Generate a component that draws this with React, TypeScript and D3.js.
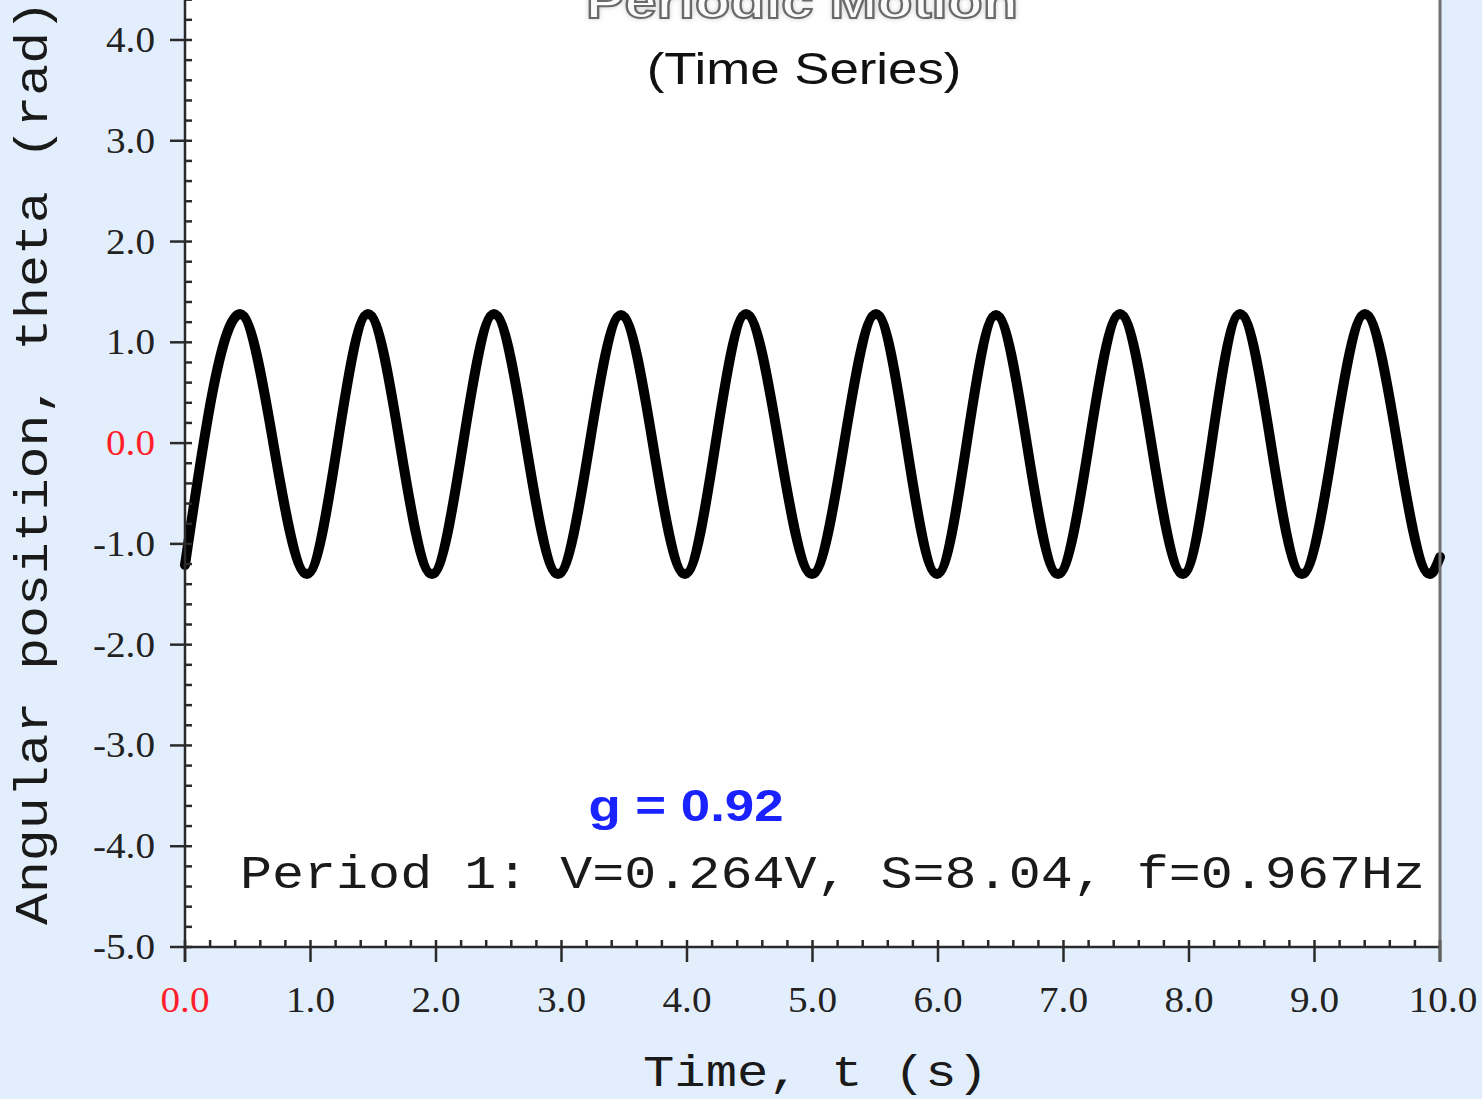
import React from "react";
import * as d3 from "d3";

// Turning points of the pendulum trace (time in s, angle in rad)
const turnT = [0, 0.438, 0.972, 1.458, 1.968, 2.462, 2.972, 3.474, 3.984, 4.47, 4.996, 5.506, 5.992, 6.462, 6.956, 7.45, 7.952, 8.406, 8.9, 9.402, 9.92, 10.0];
const turnTheta = [-1.21, 1.28, -1.3, 1.28, -1.3, 1.28, -1.3, 1.27, -1.3, 1.28, -1.3, 1.28, -1.3, 1.27, -1.3, 1.28, -1.3, 1.28, -1.3, 1.28, -1.3, -1.13];

const xTicks = [0, 1, 2, 3, 4, 5, 6, 7, 8, 9, 10];
const yTicks = [-5, -4, -3, -2, -1, 0, 1, 2, 3, 4];

const title = "Periodic Motion";
const subtitle = "(Time Series)";
const gLabel = "g = 0.92";
const periodLabel = "Period 1: V=0.264V, S=8.04, f=0.967Hz";
const xLabel = "Time, t (s)";
const yLabel = "Angular position, theta (rad)";

const W = 1482;
const H = 1099;
const left = 185;
const right = 1440;
const bottom = 947;

const BG = "#e3eefc";
const AXIS = "#2a2a2a";
const TICKTXT = "#222";
const RED = "#ff1e2a";

const serif = "'Liberation Serif', 'Times New Roman', serif";
const mono = "'Liberation Mono', 'Courier New', monospace";
const sans = "'Liberation Sans', Arial, sans-serif";

type LabelProps = {
  x: number;
  y: number;
  sx?: number;
  anchor?: "start" | "middle" | "end";
  children: React.ReactNode;
  [k: string]: any;
};

function Label({ x, y, sx = 1, anchor = "start", children, ...rest }: LabelProps) {
  return (
    <text transform={`translate(${x},${y}) scale(${sx},1)`} textAnchor={anchor} {...rest}>
      {children}
    </text>
  );
}

export default function App() {
  const x = d3.scaleLinear().domain([0, 10]).range([left, right]);
  const y = d3.scaleLinear().domain([-5, 5]).range([bottom, bottom - 10 * 100.78]);

  const pts = turnT.map((t, i) => [t, turnTheta[i]] as [number, number]);
  const line = d3
    .line<[number, number]>()
    .x((d) => x(d[0]))
    .y((d) => y(d[1]))
    .curve(d3.curveMonotoneX);

  const xMinor = d3.range(0, 10.001, 0.2).filter((v) => Math.abs(v - Math.round(v)) > 1e-6);
  const yMinor = d3.range(-5, 5.001, 0.2).filter((v) => Math.abs(v - Math.round(v)) > 1e-6);

  const top = y(5);

  return (
    <svg
      width={W}
      height={H}
      style={{ position: "fixed", left: 0, top: 0, display: "block" }}
      xmlns="http://www.w3.org/2000/svg"
    >
      <defs>
        <filter id="halo" x="-10%" y="-50%" width="120%" height="200%">
          <feGaussianBlur in="SourceAlpha" stdDeviation="2.5" result="b" />
          <feFlood floodColor="#999" floodOpacity="0.5" />
          <feComposite in2="b" operator="in" result="s" />
          <feMerge>
            <feMergeNode in="s" />
            <feMergeNode in="SourceGraphic" />
          </feMerge>
        </filter>
      </defs>
      <rect x={0} y={0} width={W} height={H} fill={BG} />
      <rect x={left} y={top} width={right - left} height={bottom - top} fill="#fff" />

      {/* titles */}
      <g filter="url(#halo)">
        <Label
          x={802}
          y={18}
          sx={1.2}
          anchor="middle"
          fontFamily={sans}
          fontWeight="bold"
          fontSize={48}
          fill="#fbfbfb"
          stroke="#6a6a6a"
          strokeWidth={2}
        >
          {title}
        </Label>
      </g>
      <Label x={804} y={84} sx={1.2} anchor="middle" fontFamily={sans} fontSize={44} fill="#111">
        {subtitle}
      </Label>

      {/* data trace */}
      <path
        d={line(pts) || ""}
        fill="none"
        stroke="#000"
        strokeWidth={10}
        strokeLinejoin="round"
        strokeLinecap="round"
      />

      {/* right border */}
      <line x1={right} x2={right} y1={top} y2={bottom + 15} stroke="#707070" strokeWidth={3} />

      {/* y axis */}
      <line x1={left} x2={left} y1={top} y2={bottom + 15} stroke={AXIS} strokeWidth={2.5} />
      {yMinor.map((v) => (
        <line key={"ym" + v} x1={left} x2={left + 7} y1={y(v)} y2={y(v)} stroke={AXIS} strokeWidth={2.5} />
      ))}
      {yTicks.map((v) => (
        <g key={"yt" + v}>
          <line x1={left - 15} x2={left + 7} y1={y(v)} y2={y(v)} stroke={AXIS} strokeWidth={2.5} />
          <Label
            x={155}
            y={y(v) + 12}
            sx={1.12}
            anchor="end"
            fontFamily={serif}
            fontSize={35}
            fill={v === 0 ? RED : TICKTXT}
          >
            {v.toFixed(1)}
          </Label>
        </g>
      ))}

      {/* x axis */}
      <line x1={left} x2={right} y1={bottom} y2={bottom} stroke={AXIS} strokeWidth={2.5} />
      {xMinor.map((v) => (
        <line key={"xm" + v} x1={x(v)} x2={x(v)} y1={bottom} y2={bottom - 7} stroke={AXIS} strokeWidth={2.5} />
      ))}
      {xTicks.map((v) => (
        <g key={"xt" + v}>
          <line
            x1={x(v)}
            x2={x(v)}
            y1={bottom - 7}
            y2={bottom + 15}
            stroke={v === 10 ? "#606060" : AXIS}
            strokeWidth={v === 10 ? 3 : 2.5}
          />
          <Label
            x={x(v) + (v === 10 ? 3 : 0)}
            y={1012}
            sx={1.12}
            anchor="middle"
            fontFamily={serif}
            fontSize={35}
            fill={v === 0 ? RED : TICKTXT}
          >
            {v.toFixed(1)}
          </Label>
        </g>
      ))}

      {/* annotations */}
      <Label x={686} y={821} sx={1.2} anchor="middle" fontFamily={sans} fontWeight="bold" fontSize={44} fill="#1a22ff">
        {gLabel}
      </Label>
      <text
        x={240}
        y={888}
        fontFamily={mono}
        fontSize={46}
        fill="#1a1a1a"
        textLength={1185}
        lengthAdjust="spacingAndGlyphs"
      >
        {periodLabel}
      </text>

      {/* axis titles */}
      <text
        x={643}
        y={1086}
        fontFamily={mono}
        fontSize={44}
        fill="#1a1a1a"
        textLength={345}
        lengthAdjust="spacingAndGlyphs"
      >
        {xLabel}
      </text>
      <text
        transform="translate(47,925) rotate(-90)"
        x={0}
        y={0}
        fontFamily={mono}
        fontSize={46}
        fill="#1a1a1a"
        textLength={925}
        lengthAdjust="spacingAndGlyphs"
      >
        {yLabel}
      </text>
    </svg>
  );
}
